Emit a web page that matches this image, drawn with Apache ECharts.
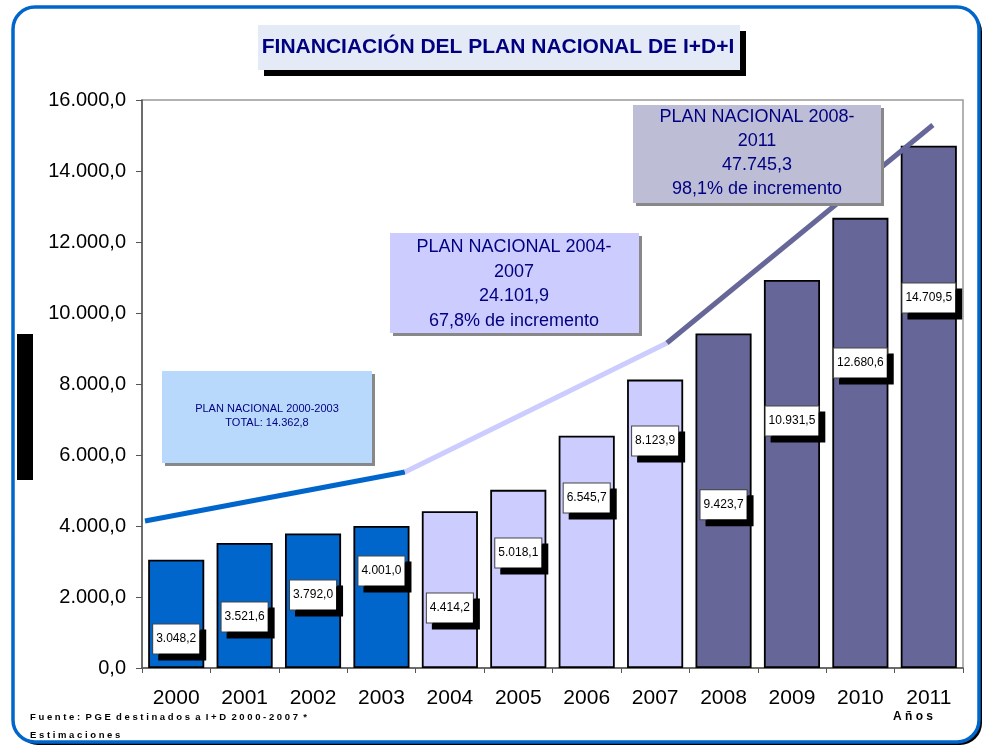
<!DOCTYPE html>
<html>
<head>
<meta charset="utf-8">
<script src="https://cdn.jsdelivr.net/npm/echarts@6/dist/echarts.min.js"></script>
<style>
html,body{margin:0;padding:0;background:#fff;}
#chart{width:988px;height:746px;}
</style>
</head>
<body>
<div id="chart"></div>
<script>
// ---- data ----
var years = ['2000','2001','2002','2003','2004','2005','2006','2007','2008','2009','2010','2011'];
var funding = [3048.2, 3521.6, 3792.0, 4001.0, 4414.2, 5018.1, 6545.7, 8123.9, 9423.7, 10931.5, 12680.6, 14709.5];
var planOfYear = [0,0,0,0,1,1,1,1,2,2,2,2];
// where each value tag sits along the bar (axis units)
var tagLevel = [817, 1437, 2056, 2732, 1690, 3239, 4789, 6394, 4600, 6958, 8592, 10423];
// trend lines per plan: [category position, value]
var plan1Trend = [[-0.456, 4141], [3.344, 5521]];
var plan2Trend = [[3.344, 5521], [7.173, 9155]];
var plan3Trend = [[7.173, 9155], [11.06, 15296]];

var planColors = ['#0066CC', '#CCCCFF', '#666699'];

function fmtEs(v, dec) {
  var s = Number(v).toFixed(dec);
  var parts = s.split('.');
  var ip = parts[0].replace(/\B(?=(\d{3})+(?!\d))/g, '.');
  return parts.length > 1 ? ip + ',' + parts[1] : ip;
}

var chart = echarts.init(document.getElementById('chart'), null, {renderer: 'canvas'});
var FONT = 'Liberation Sans, Arial, sans-serif';
var navy = '#000080';

var option = {
  animation: false,
  backgroundColor: 'transparent',
  grid: {left: 142, right: 25, top: 100, bottom: 78, show: true, borderColor: '#999999', borderWidth: 1.5, backgroundColor: 'transparent'},
  xAxis: [{
    type: 'category',
    data: years,
    axisLine: {onZero: false, lineStyle: {color: '#555', width: 1.5}},
    axisTick: {show: true, alignWithLabel: false, length: 5, lineStyle: {color: '#555'}},
    axisLabel: {color: '#000', fontSize: 21, fontFamily: FONT, margin: 20},
    splitLine: {show: false}
  }, {
    type: 'value',
    min: -0.5, max: 11.5,
    show: false,
    axisLine: {show: false, onZero: false}
  }],
  yAxis: {
    type: 'value',
    min: 0, max: 16000, interval: 2000,
    axisLine: {show: true, onZero: false, lineStyle: {color: '#555', width: 1.5}},
    axisTick: {show: true, length: 6, lineStyle: {color: '#555'}},
    axisLabel: {color: '#000', fontSize: 20, fontFamily: FONT, margin: 16,
      formatter: function (v) { return fmtEs(v, 1); }},
    splitLine: {show: false}
  },
  series: [
    {
      type: 'bar',
      data: funding.map(function (v, i) {
        return {value: v, itemStyle: {color: planColors[planOfYear[i]]}};
      }),
      barCategoryGap: '18%',
      itemStyle: {borderColor: '#000', borderWidth: 1.8},
      z: 2
    },
    {
      type: 'line', xAxisIndex: 1, data: plan1Trend, symbol: 'none',
      lineStyle: {color: planColors[0], width: 5, cap: 'butt'}, z: 3
    },
    {
      type: 'line', xAxisIndex: 1, data: plan2Trend, symbol: 'none',
      lineStyle: {color: planColors[1], width: 5, cap: 'butt'}, z: 3
    },
    {
      type: 'line', xAxisIndex: 1, data: plan3Trend, symbol: 'none',
      lineStyle: {color: planColors[2], width: 5, cap: 'butt'}, z: 3
    },
    {
      type: 'scatter',
      data: tagLevel.map(function (t, i) { return [i, t]; }),
      symbolSize: 0,
      itemStyle: {opacity: 1},
      z: 5,
      label: {
        show: true,
        position: 'inside',
        formatter: function (p) { return fmtEs(funding[p.dataIndex], 1); },
        color: '#000',
        fontSize: 12,
        fontFamily: FONT,
        backgroundColor: '#fff',
        borderColor: '#444',
        borderWidth: 1,
        padding: [9, 3, 8, 3],
        shadowColor: '#000',
        shadowBlur: 0,
        shadowOffsetX: 6,
        shadowOffsetY: 6,
        textShadowColor: 'transparent',
        textShadowBlur: 0
      },
      emphasis: {disabled: true}
    }
  ],
  graphic: [
    // outer frame shadow + frame
    {type: 'rect', z: -10, shape: {x: 16, y: 10, width: 966, height: 735, r: 22}, style: {fill: '#000'}},
    {type: 'rect', z: -9, shape: {x: 13, y: 7, width: 966, height: 735, r: 22}, style: {fill: '#fff', stroke: '#0066CC', lineWidth: 3.5}},
    // black marker on left
    {type: 'rect', z: 10, shape: {x: 17, y: 334, width: 16, height: 146}, style: {fill: '#000'}},
    // title box
    {type: 'rect', z: 10, shape: {x: 264, y: 31, width: 482, height: 45}, style: {fill: '#000'}},
    {type: 'rect', z: 11, shape: {x: 258, y: 25, width: 482, height: 45}, style: {fill: '#E4EBF6'}},
    {type: 'text', z: 12, x: 498, y: 47, style: {text: 'FINANCIACIÓN DEL PLAN NACIONAL DE I+D+I', fill: navy,
      font: 'bold 21px ' + FONT, textAlign: 'center', textVerticalAlign: 'middle'}},
    // plan 2000-2003 box
    {type: 'rect', z: 10, shape: {x: 165, y: 374, width: 210, height: 92}, style: {fill: '#888'}},
    {type: 'rect', z: 11, shape: {x: 162, y: 371, width: 210, height: 92}, style: {fill: '#B9D9FC'}},
    {type: 'text', z: 12, x: 267, y: 416, style: {text: 'PLAN NACIONAL 2000-2003\nTOTAL: 14.362,8', fill: navy,
      font: '11px ' + FONT, textAlign: 'center', textVerticalAlign: 'middle', lineHeight: 14}},
    // plan 2004-2007 box
    {type: 'rect', z: 10, shape: {x: 393, y: 236, width: 249, height: 100}, style: {fill: '#888'}},
    {type: 'rect', z: 11, shape: {x: 390, y: 233, width: 249, height: 100}, style: {fill: '#CCCCFF'}},
    {type: 'text', z: 12, x: 514, y: 284, style: {text: 'PLAN NACIONAL 2004-\n2007\n24.101,9\n67,8% de incremento', fill: navy,
      font: '18px ' + FONT, textAlign: 'center', textVerticalAlign: 'middle', lineHeight: 24.5}},
    // plan 2008-2011 box
    {type: 'rect', z: 10, shape: {x: 636, y: 108, width: 248, height: 98}, style: {fill: '#888'}},
    {type: 'rect', z: 11, shape: {x: 633, y: 105, width: 248, height: 98}, style: {fill: '#BDBDD6'}},
    {type: 'text', z: 12, x: 757, y: 153, style: {text: 'PLAN NACIONAL 2008-\n2011\n47.745,3\n98,1% de incremento', fill: navy,
      font: '18px ' + FONT, textAlign: 'center', textVerticalAlign: 'middle', lineHeight: 24}},
    // footer
    {type: 'text', z: 12, x: 30, y: 717, style: {text: 'F u e n t e :  P G E  d e s t i n a d o s  a  I + D  2 0 0 0 - 2 0 0 7  *', fill: '#000',
      font: 'bold 9.5px ' + FONT, textVerticalAlign: 'middle'}},
    {type: 'text', z: 12, x: 30, y: 735, style: {text: 'E s t i m a c i o n e s', fill: '#000',
      font: 'bold 9.5px ' + FONT, textVerticalAlign: 'middle'}},
    {type: 'text', z: 12, x: 893, y: 717, style: {text: 'A ñ o s', fill: '#000',
      font: 'bold 12px ' + FONT, textVerticalAlign: 'middle'}}
  ]
};
chart.setOption(option);
</script>
</body>
</html>
